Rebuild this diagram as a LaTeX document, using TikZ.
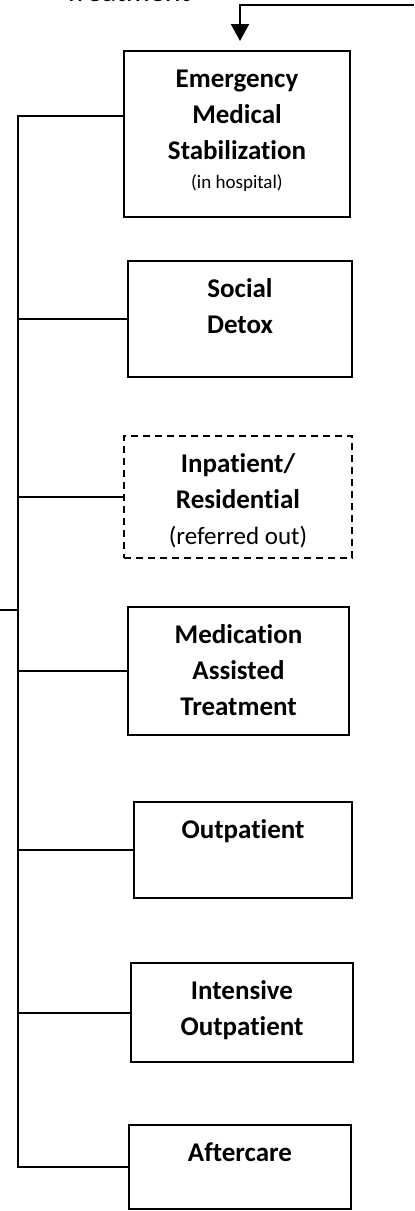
\documentclass[tikz,border=0pt]{standalone}
\usepackage{fontspec}
\setmainfont{Carlito}[Ligatures=NoCommon]
\usepackage{tikz}
\usetikzlibrary{arrows.meta,calc}

\begin{document}
\begin{tikzpicture}[x=0.5pt, y=-0.5pt, line width=1pt,
  stage/.style={draw, inner sep=0pt},
  referred/.style={stage, dash pattern=on 3.5pt off 2.5pt},
  stagetext/.style={anchor=north, inner sep=0pt, yshift=-5.4pt, align=center,
    font=\bfseries\fontsize{13.5}{18}\selectfont}]
\useasboundingbox (0,0) rectangle (414,1211);

\node[anchor=base west, inner sep=0pt, font=\fontsize{15}{18}\selectfont] (treat) at (63,1) {Treatment};

\node[stage, minimum width=113pt, minimum height=83pt] (ems) at (237,134) {};
\node[stagetext] (ems-t) at (ems.north) {\strut Emergency\\Medical\\Stabilization\\[-3.5pt]{\mdseries\fontsize{9.5}{11}\selectfont (in hospital)}};
\node[stage, minimum width=112pt, minimum height=58pt] (detox) at (240,319) {};
\node[stagetext] (detox-t) at (detox.north) {\strut Social\\Detox};
\node[referred, minimum width=114pt, minimum height=61pt] (inpat) at (238,497) {};
\node[stagetext] (inpat-t) at (inpat.north) {\strut Inpatient/\\Residential\\{\mdseries\fontsize{12.5}{18}\selectfont (referred out)}};
\node[stage, minimum width=110.5pt, minimum height=64pt] (mat) at (238.5,671) {};
\node[stagetext] (mat-t) at (mat.north) {\strut Medication\\Assisted\\Treatment};
\node[stage, minimum width=109pt, minimum height=48pt] (outp) at (243,850) {};
\node[stagetext] (outp-t) at (outp.north) {\strut Outpatient};
\node[stage, minimum width=111pt, minimum height=49.5pt] (iop) at (242,1012.5) {};
\node[stagetext] (iop-t) at (iop.north) {\strut Intensive\\Outpatient};
\node[stage, minimum width=111pt, minimum height=42pt] (care) at (240,1167) {};
\node[stagetext] (care-t) at (care.north) {\strut Aftercare};

\coordinate (feed) at (414,5);
\coordinate (bus) at (18,0);
\coordinate (side) at (0,610);

\draw[-{Triangle[width=9pt,length=8.5pt]}, shorten >=4.5pt] (feed) -| ([xshift=1.5pt]ems.north);
\draw ([yshift=9pt]ems.west) -- ([yshift=9pt]ems.west -| bus) -- (care.west -| bus) -- (care.west);
\foreach \s in {detox,inpat,mat,outp,iop}
  \draw (\s.west) -- (\s.west -| bus);
\draw (side) -- (side -| bus);
\end{tikzpicture}
\end{document}
